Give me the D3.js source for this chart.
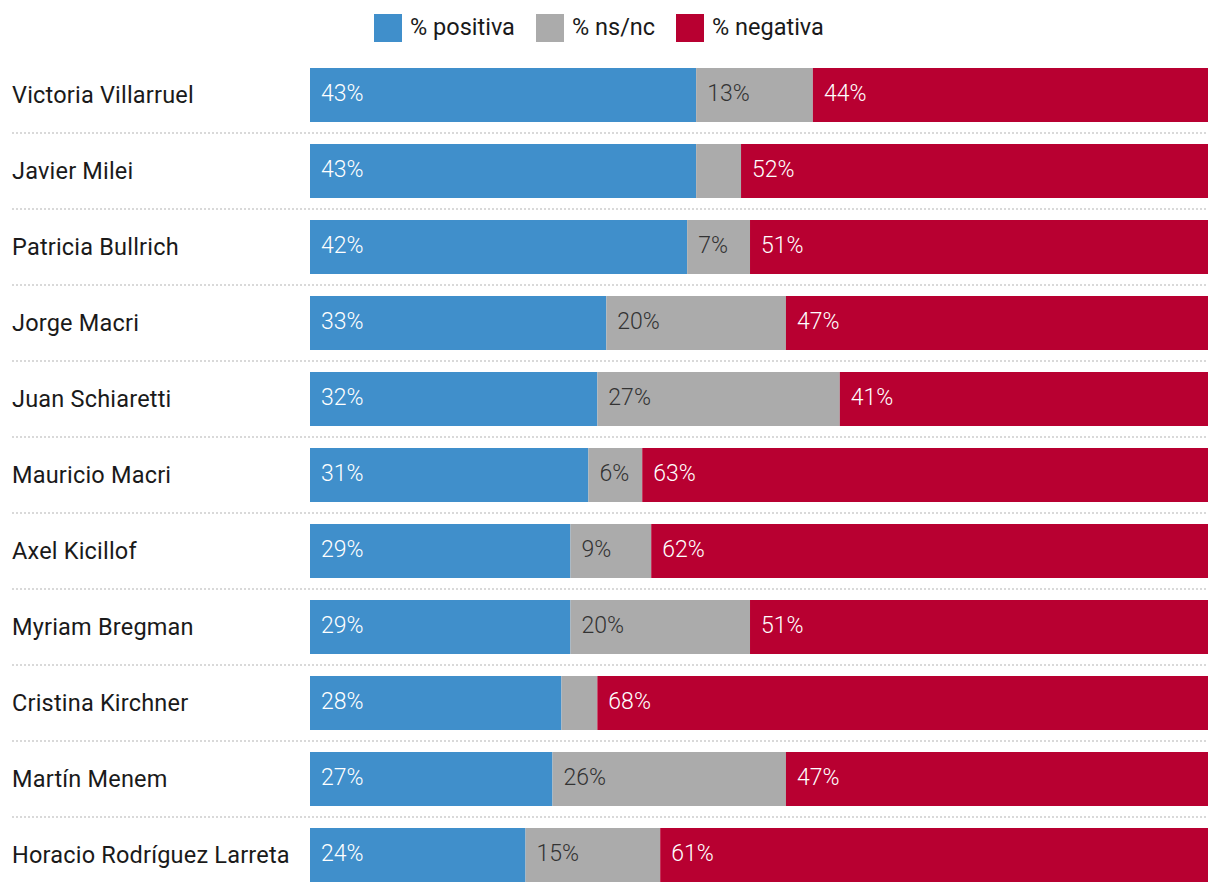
<!DOCTYPE html>
<html>
<head>
<meta charset="utf-8">
<script src="https://cdn.jsdelivr.net/npm/d3@7"></script>
<style>
  body { margin: 0; background: #fff; }
  svg { display: block; font-family: Roboto, "Open Sans", sans-serif; }
</style>
</head>
<body>
<svg id="chart" width="1220" height="894"></svg>
<script>
const names = ["Victoria Villarruel","Javier Milei","Patricia Bullrich","Jorge Macri","Juan Schiaretti","Mauricio Macri","Axel Kicillof","Myriam Bregman","Cristina Kirchner","Martín Menem","Horacio Rodríguez Larreta"];
const positiva = [43,43,42,33,32,31,29,29,28,27,24];
const nsnc     = [13,5,7,20,27,6,9,20,4,26,15];
const negativa = [44,52,51,47,41,63,62,51,68,47,61];
const seriesNames = ["% positiva","% ns/nc","% negativa"];
const colors = ["#408fcb","#ababab","#b80031"];
const textColors = ["#ffffff","#333333","#ffffff"];

const rows = names.map((n,i)=>({name:n, vals:[positiva[i], nsnc[i], negativa[i]]}));

const svg = d3.select("#chart");
const x = d3.scaleLinear().domain([0,100]).range([310,1208]);
const p = 22/76;
const y = d3.scaleBand().domain(names).range([57, 57+11*76]).paddingInner(p).paddingOuter(p/2);

// separators
svg.append("g").selectAll("line").data(names.slice(0,-1)).join("line")
  .attr("x1",12).attr("x2",1208)
  .attr("y1",d=>y(d)+y.bandwidth()+11).attr("y2",d=>y(d)+y.bandwidth()+11)
  .attr("stroke","#d9d9d9").attr("stroke-width",2).attr("stroke-dasharray","2,2");

// names
svg.append("g").selectAll("text").data(rows).join("text")
  .attr("x",12).attr("y",d=>y(d.name)+y.bandwidth()/2+2)
  .attr("dominant-baseline","middle")
  .attr("font-size",23.5).attr("fill","#1a1a1a")
  .attr("letter-spacing",0.2)
  .text(d=>d.name);

// bars
const g = svg.append("g");
rows.forEach(r=>{
  let cum = 0;
  r.vals.forEach((v,k)=>{
    const x0 = x(cum), x1 = x(cum+v);
    g.append("rect").attr("x",x0).attr("y",y(r.name))
      .attr("width",x1-x0).attr("height",y.bandwidth()).attr("fill",colors[k]);
    if (v >= 6) {
      g.append("text").attr("x",x0+11).attr("y",y(r.name)+y.bandwidth()/2)
        .attr("dominant-baseline","middle")
        .attr("font-size",23).attr("font-weight",300).attr("fill",textColors[k])
        .text(v+"%");
    }
    cum += v;
  });
});

// legend
const legendX = [374,536,676];
const lg = svg.append("g");
seriesNames.forEach((s,k)=>{
  lg.append("rect").attr("x",legendX[k]).attr("y",14).attr("width",28).attr("height",28).attr("fill",colors[k]);
  lg.append("text").attr("x",legendX[k]+36).attr("y",29).attr("dominant-baseline","middle")
    .attr("font-size",23.5).attr("fill","#1a1a1a").text(s);
});
</script>
</body>
</html>
